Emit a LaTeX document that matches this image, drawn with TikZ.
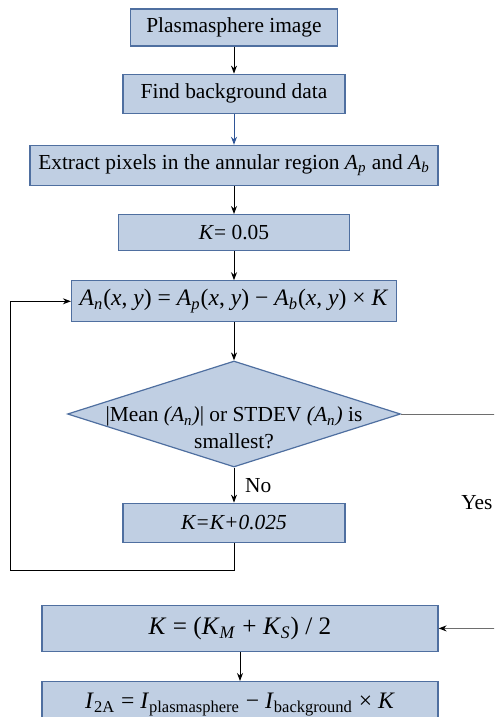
\documentclass[tikz,border=0pt]{standalone}
\usepackage{fontspec}
\setmainfont{Liberation Serif}
\usetikzlibrary{positioning, arrows.meta, shapes.geometric}

\definecolor{boxfill}{RGB}{192,207,227}
\definecolor{boxline}{RGB}{79,111,160}
\definecolor{linkblue}{RGB}{47,85,151}
\definecolor{linkgray}{RGB}{110,110,110}
\newcommand{\vi}[1]{\textit{#1}}

\begin{document}
\begin{tikzpicture}[>={Stealth[length=4pt, width=3pt]}, x=1pt, y=1pt, line width=0.5pt,
    font=\fontsize{10.7}{13.5}\selectfont,
    process/.style = {draw=boxline, fill=boxfill, line width=0.6pt, inner sep=0pt},
    decision/.style = {diamond, draw=boxline, fill=boxfill, line width=0.6pt, inner sep=0pt,
      minimum width=166.5pt, minimum height=53pt},
    bigmath/.style = {font=\fontsize{11.8}{14}\selectfont}]
  \path[use as bounding box, clip] (0,0) rectangle (247,-358.5);

  \node[process, minimum width=103.5pt, minimum height=18.5pt] (image) at (117,-13.75) {Plasmasphere image};
  \node[process, minimum width=111pt, minimum height=19.5pt] (background) [below = 13.5pt of image] {Find background data};
  \node[process, minimum width=204pt, minimum height=20pt] (extract) [below = 15.5pt of background]
    {Extract pixels in the annular region \vi{A}\textsubscript{\vi{p}} and \vi{A}\textsubscript{\vi{b}}};
  \node[process, minimum width=115.5pt, minimum height=18pt] (kinit) [below = 14pt of extract] {\vi{K}= 0.05};
  \node[process, bigmath, minimum width=162.5pt, minimum height=20.5pt] (subtract) [below = 14.5pt of kinit]
    {\vi{A}\textsubscript{\vi{n}}(\vi{x}, \vi{y}) = \vi{A}\textsubscript{\vi{p}}(\vi{x}, \vi{y}) − \vi{A}\textsubscript{\vi{b}}(\vi{x}, \vi{y}) × \vi{K}};
  \node[decision] (smallest) [below = 19pt of subtract] {};
  \node[align=center] (question) at ([yshift=-7pt]smallest.center)
    {|Mean \vi{(A\textsubscript{n})}| or STDEV \vi{(A\textsubscript{n})} is\\ smallest?};
  \node[process, minimum width=111pt, minimum height=19.5pt] (kstep) [below = 17.5pt of smallest] {\vi{K=K+0.025}};
  \node[process, font=\fontsize{12.6}{14}\selectfont, minimum width=198pt, minimum height=23pt] (kmean) [below = 31pt of kstep, xshift=3pt]
    {\vi{K} = (\vi{K}\textsubscript{\vi{M}} + \vi{K}\textsubscript{\vi{S}}) / 2};
  \node[process, bigmath, minimum width=198pt, minimum height=23pt] (result) [below = 14.5pt of kmean]
    {\vi{I}\textsubscript{2A} = \vi{I}\textsubscript{plasmasphere} − \vi{I}\textsubscript{background} × \vi{K}};
  \node (yes) at (238.5,-251.5) {Yes};

  \path[->]
    (image) edge (background)
    (background) edge [linkblue] (extract)
    (extract) edge (kinit)
    (kinit) edge (subtract)
    (subtract) edge (smallest)
    (smallest) edge node [right, xshift=2pt] {No} (kstep)
    (kmean) edge (result)
  ;

  % loop back for the next K
  \coordinate (loopcorner) at ([xshift=-30pt]subtract.west);
  \draw[->] (kstep.south) -- ++(0,-14) -| (loopcorner) -- (subtract.west);

  % yes branch leaves the picture on the right
  \coordinate (rightside) at (252,0);
  \draw[linkgray, -{Stealth[length=4pt, width=3pt, black]}]
    (smallest.east) -- (smallest.east -| rightside) |- (kmean.east);
\end{tikzpicture}
\end{document}
